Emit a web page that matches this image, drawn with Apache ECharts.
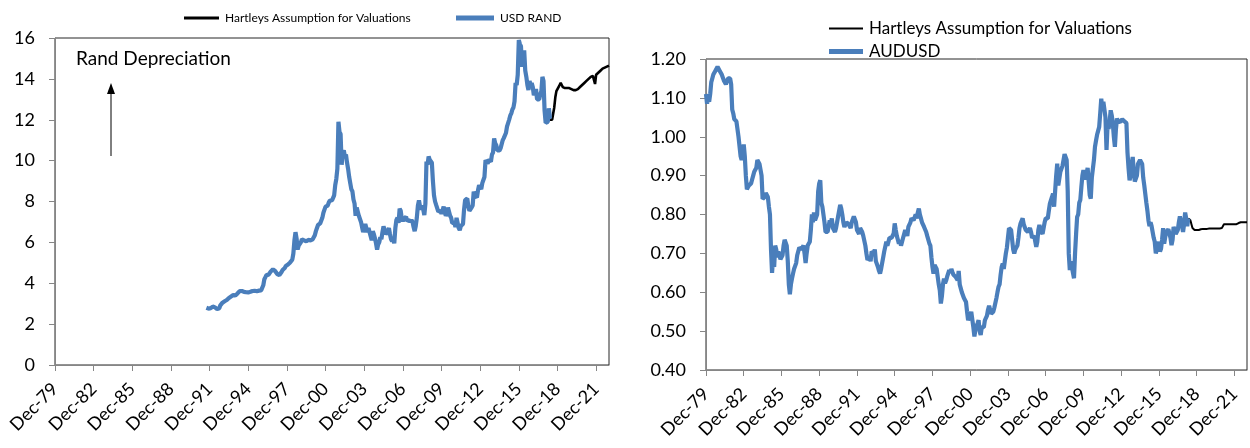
<!DOCTYPE html>
<html>
<head>
<meta charset="utf-8">
<title>USD RAND and AUDUSD</title>
<script src="https://cdn.jsdelivr.net/npm/echarts@6.0.0/dist/echarts.min.js"></script>
<style>
  html, body { margin: 0; padding: 0; background: #fff; }
  #chart { width: 1250px; height: 448px; }
</style>
</head>
<body>
<div id="chart"></div>
<script>
// Axis ticks: every third December, counted in months from Dec 1979
const tickLabels = ['Dec-79', 'Dec-82', 'Dec-85', 'Dec-88', 'Dec-91', 'Dec-94', 'Dec-97',
  'Dec-00', 'Dec-03', 'Dec-06', 'Dec-09', 'Dec-12', 'Dec-15', 'Dec-18', 'Dec-21'];
const axisEndMonth = '2022-12';

// USD/ZAR, monthly from Sep 1991
const usdRandStart = '1991-09';
const usdRand = [
  2.80, 2.78, 2.76, 2.75,
  2.78, 2.82, 2.86, 2.85, 2.82, 2.80, 2.74, 2.72, 2.78, 2.92, 3.00, 3.05,
  3.10, 3.12, 3.20, 3.18, 3.22, 3.28, 3.30, 3.35, 3.40, 3.42, 3.38, 3.40,
  3.45, 3.50, 3.55, 3.62, 3.65, 3.62, 3.60, 3.58, 3.55, 3.56, 3.58, 3.55,
  3.56, 3.58, 3.60, 3.62, 3.64, 3.63, 3.62, 3.61, 3.62, 3.64, 3.66, 3.65,
  3.65, 3.90, 4.20, 4.30, 4.40, 4.35, 4.42, 4.50, 4.58, 4.62, 4.68, 4.64,
  4.60, 4.55, 4.45, 4.42, 4.40, 4.45, 4.55, 4.65, 4.70, 4.75, 4.85, 4.88,
  4.92, 4.97, 5.02, 5.08, 5.15, 5.45, 6.10, 6.50, 6.20, 5.65, 5.85, 5.90,
  6.00, 6.15, 6.20, 6.10, 6.15, 6.05, 6.10, 6.12, 6.08, 6.10, 6.12, 6.15,
  6.20, 6.35, 6.55, 6.70, 6.85, 6.90, 6.93, 7.00, 7.20, 7.45, 7.60, 7.75,
  7.70, 7.80, 7.95, 8.05, 8.07, 8.05, 8.10, 8.30, 8.80, 9.10, 9.60, 11.90,
  11.40, 11.30, 9.80, 10.40, 10.50, 10.20, 10.30, 9.90, 9.60, 9.20, 8.90, 8.60,
  8.50, 8.10, 7.90, 7.30, 7.70, 7.50, 7.30, 7.35, 7.00, 6.75, 6.50, 6.45,
  6.90, 6.95, 6.50, 6.70, 6.50, 6.30, 6.10, 6.55, 6.40, 6.20, 5.95, 5.65,
  5.90, 6.00, 6.25, 6.15, 6.50, 6.78, 6.60, 6.40, 6.35, 6.55, 6.70, 6.40,
  6.15, 6.05, 6.20, 5.95, 6.70, 7.10, 7.20, 6.95, 7.65, 7.55, 7.15, 7.05,
  7.15, 7.20, 7.25, 7.05, 7.00, 7.10, 7.00, 7.10, 7.00, 6.75, 6.55, 6.80,
  7.20, 7.80, 8.05, 7.75, 7.60, 7.80, 7.60, 7.34, 7.90, 9.95, 9.80, 10.20,
  10.05, 10.00, 9.90, 9.00, 8.30, 8.00, 7.83, 7.90, 7.50, 7.45, 7.55, 7.40,
  7.45, 7.75, 7.50, 7.30, 7.40, 7.70, 7.65, 7.30, 7.20, 6.95, 6.90, 6.95,
  6.75, 7.20, 6.95, 6.70, 6.60, 6.80, 6.75, 6.90, 7.60, 8.07, 8.10, 8.15,
  7.75, 7.55, 7.60, 7.70, 7.80, 8.48, 8.30, 8.25, 8.20, 8.55, 8.80, 8.70,
  8.60, 8.90, 9.05, 9.20, 10.03, 9.95, 9.85, 10.05, 10.00, 9.95, 10.30, 10.40,
  11.09, 10.85, 10.75, 10.50, 10.45, 10.50, 10.60, 10.65, 11.00, 11.10, 11.10, 11.35,
  11.66, 11.60, 12.00, 12.20, 12.31, 12.50, 12.60, 12.90, 13.80, 13.70, 14.20, 15.90,
  15.70, 15.60, 14.60, 14.60, 15.40, 14.40, 14.10, 13.70, 13.45, 13.90, 13.70, 13.80,
  13.60, 13.20, 13.13, 13.50, 13.00, 12.96, 13.00, 13.25, 13.40, 14.10, 13.90, 12.45,
  11.85, 11.82, 11.90, 12.56, 12.05
];

// Valuation assumption for USD/ZAR, monthly from May 2018
const randAssumptionStart = '2018-05';
const randAssumption = [
  12.00, 12.00, 12.00, 12.05, 12.60, 13.10, 13.40, 13.50,
  13.60, 13.70, 13.80, 13.70, 13.60, 13.55, 13.55, 13.55, 13.55, 13.55, 13.55, 13.50,
  13.50, 13.45, 13.45, 13.45, 13.45, 13.45, 13.50, 13.55, 13.60, 13.65, 13.70, 13.75,
  13.80, 13.85, 13.90, 13.95, 14.00, 14.05, 14.10, 14.10, 14.15, 14.20, 13.75, 14.20,
  14.25, 14.30, 14.35, 14.40, 14.45, 14.50, 14.50, 14.55, 14.55, 14.60, 14.60, 14.65
];

// AUD/USD, monthly from Dec 1979
const audUsdStart = '1979-12';
const audUsd = [
  1.110,
  1.085, 1.100, 1.090, 1.110, 1.140, 1.150, 1.160, 1.165, 1.170, 1.175, 1.180, 1.175,
  1.170, 1.165, 1.160, 1.155, 1.145, 1.140, 1.135, 1.140, 1.150, 1.145, 1.150, 1.135,
  1.070, 1.060, 1.045, 1.040, 1.040, 1.020, 1.000, 0.975, 0.950, 0.940, 0.965, 0.980,
  0.950, 0.900, 0.865, 0.870, 0.875, 0.880, 0.880, 0.890, 0.900, 0.910, 0.915, 0.920,
  0.940, 0.945, 0.930, 0.925, 0.900, 0.840, 0.835, 0.845, 0.855, 0.860, 0.845, 0.820,
  0.800, 0.710, 0.650, 0.690, 0.665, 0.720, 0.710, 0.690, 0.705, 0.700, 0.685, 0.680,
  0.695, 0.720, 0.735, 0.740, 0.720, 0.680, 0.620, 0.595, 0.620, 0.635, 0.648, 0.660,
  0.665, 0.675, 0.695, 0.700, 0.715, 0.720, 0.710, 0.705, 0.720, 0.700, 0.675, 0.700,
  0.720, 0.715, 0.730, 0.760, 0.800, 0.780, 0.805, 0.785, 0.790, 0.800, 0.860, 0.880,
  0.888, 0.830, 0.820, 0.800, 0.780, 0.755, 0.760, 0.755, 0.770, 0.785, 0.775, 0.790,
  0.765, 0.760, 0.755, 0.765, 0.780, 0.795, 0.800, 0.825, 0.815, 0.800, 0.780, 0.768,
  0.770, 0.780, 0.785, 0.775, 0.770, 0.765, 0.780, 0.785, 0.795, 0.798, 0.780, 0.760,
  0.755, 0.750, 0.765, 0.760, 0.755, 0.745, 0.740, 0.720, 0.700, 0.683, 0.685, 0.690,
  0.680, 0.705, 0.708, 0.700, 0.710, 0.680, 0.675, 0.665, 0.655, 0.648, 0.660, 0.675,
  0.690, 0.705, 0.710, 0.730, 0.720, 0.730, 0.740, 0.745, 0.740, 0.735, 0.751, 0.777,
  0.760, 0.745, 0.735, 0.725, 0.734, 0.720, 0.730, 0.740, 0.750, 0.760, 0.755, 0.745,
  0.768, 0.770, 0.780, 0.790, 0.794, 0.785, 0.790, 0.800, 0.790, 0.805, 0.815, 0.800,
  0.790, 0.780, 0.785, 0.768, 0.770, 0.755, 0.745, 0.740, 0.726, 0.720, 0.690, 0.665,
  0.648, 0.670, 0.674, 0.660, 0.640, 0.620, 0.605, 0.571, 0.590, 0.620, 0.635, 0.623,
  0.630, 0.640, 0.645, 0.657, 0.650, 0.660, 0.652, 0.645, 0.650, 0.640, 0.635, 0.631,
  0.655, 0.620, 0.610, 0.600, 0.597, 0.585, 0.590, 0.575, 0.550, 0.528, 0.525, 0.540,
  0.550, 0.530, 0.510, 0.486, 0.505, 0.510, 0.520, 0.528, 0.500, 0.490, 0.510, 0.515,
  0.510, 0.528, 0.530, 0.540, 0.555, 0.565, 0.560, 0.545, 0.546, 0.550, 0.560, 0.565,
  0.585, 0.600, 0.614, 0.620, 0.645, 0.665, 0.674, 0.660, 0.680, 0.700, 0.715, 0.740,
  0.765, 0.770, 0.760, 0.735, 0.710, 0.700, 0.710, 0.715, 0.720, 0.740, 0.765, 0.777,
  0.780, 0.790, 0.775, 0.770, 0.760, 0.760, 0.755, 0.760, 0.765, 0.755, 0.740, 0.735,
  0.745, 0.740, 0.717, 0.730, 0.760, 0.773, 0.760, 0.765, 0.750, 0.765, 0.780, 0.790,
  0.785, 0.790, 0.810, 0.828, 0.825, 0.845, 0.854, 0.820, 0.860, 0.900, 0.931, 0.875,
  0.871, 0.910, 0.905, 0.925, 0.940, 0.955, 0.957, 0.940, 0.860, 0.700, 0.657, 0.680,
  0.680, 0.650, 0.636, 0.700, 0.750, 0.794, 0.800, 0.830, 0.837, 0.870, 0.900, 0.914,
  0.905, 0.890, 0.888, 0.920, 0.923, 0.850, 0.841, 0.895, 0.900, 0.940, 0.974, 0.990,
  1.005, 1.015, 1.025, 1.060, 1.098, 1.070, 1.090, 1.094, 1.050, 0.966, 1.030, 1.020,
  1.040, 1.068, 1.055, 1.035, 1.000, 0.974, 1.020, 1.047, 1.040, 1.040, 1.038, 1.040,
  1.045, 1.040, 1.040, 1.038, 1.035, 0.960, 0.920, 0.888, 0.900, 0.930, 0.948, 0.910,
  0.885, 0.880, 0.900, 0.930, 0.935, 0.940, 0.935, 0.930, 0.895, 0.875, 0.871, 0.830,
  0.810, 0.785, 0.770, 0.780, 0.770, 0.770, 0.740, 0.730, 0.700, 0.710, 0.712, 0.730,
  0.705, 0.712, 0.735, 0.765, 0.725, 0.742, 0.755, 0.755, 0.762, 0.765, 0.740, 0.721,
  0.735, 0.768, 0.765, 0.750, 0.745, 0.760, 0.780, 0.795, 0.800, 0.770, 0.755, 0.775,
  0.805, 0.790, 0.770, 0.790
];

// Valuation assumption for AUD/USD, monthly from Apr 2018
const audAssumptionStart = '2018-04';
const audAssumption = [
  0.790, 0.790, 0.785, 0.775, 0.765, 0.760, 0.760, 0.760, 0.760,
  0.760, 0.760, 0.760, 0.762, 0.763, 0.763, 0.763, 0.763, 0.763, 0.763, 0.764, 0.764,
  0.764, 0.764, 0.764, 0.764, 0.764, 0.764, 0.764, 0.764, 0.764, 0.764, 0.764, 0.765,
  0.770, 0.775, 0.775, 0.775, 0.775, 0.775, 0.775, 0.775, 0.775, 0.775, 0.775, 0.775,
  0.775, 0.775, 0.770, 0.778, 0.780, 0.780, 0.780, 0.780, 0.780, 0.780, 0.780, 0.780
];

// ---- helpers -------------------------------------------------------------
function monthsFromBase(ym) {
  const [y, m] = ym.split('-').map(Number);
  return (y - 1979) * 12 + (m - 12);
}
function toPoints(start, values) {
  const s = monthsFromBase(start);
  return values.map((v, i) => [s + i, v]);
}

const FONT = 'Lato';
const AXIS_GREY = '#868686';
const BLUE = '#4a7ebb';
const ASSUMPTION = 'Hartleys Assumption for Valuations';
const tickMonths = tickLabels.map((_, i) => i * 36);
const xMax = monthsFromBase(axisEndMonth);

function xAxisFor(gridIndex) {
  return {
    type: 'value', gridIndex, min: 0, max: xMax, interval: 36,
    axisLine: { show: true, lineStyle: { color: AXIS_GREY, width: 1 } },
    axisTick: { show: true, length: 6, customValues: tickMonths, lineStyle: { color: AXIS_GREY } },
    axisLabel: {
      customValues: tickMonths, rotate: 45, margin: 21,
      formatter: v => tickLabels[Math.round(v / 36)] || '',
      fontFamily: FONT, fontSize: 18, color: '#000'
    },
    splitLine: { show: false }
  };
}

// one legend entry per component so each key can keep its own line thickness
function legendKey(name, left, top, width, thickness, fontSize) {
  return {
    data: [{ name, icon: 'rect' }],
    left, top, orient: 'horizontal', padding: 0,
    itemWidth: width, itemHeight: thickness,
    textStyle: { fontFamily: FONT, fontSize, color: '#000', padding: [0, 0, 0, 1] },
    selectedMode: false
  };
}

const chart = echarts.init(document.getElementById('chart'), null, { renderer: 'canvas' });

chart.setOption({
  animation: false,
  backgroundColor: '#fff',
  grid: [
    { left: 55, top: 38, width: 554, height: 327, show: true, borderColor: '#262626', borderWidth: 1 },
    { left: 706, top: 59, width: 541, height: 311, show: true, borderColor: '#262626', borderWidth: 1 }
  ],
  legend: [
    legendKey(ASSUMPTION, 184, 12, 35, 3, 12),
    legendKey('USD RAND', 456, 12, 38, 5, 12),
    legendKey(ASSUMPTION, 829, 20, 34, 2, 17),
    legendKey('AUDUSD', 829, 43, 34, 5, 17)
  ],
  xAxis: [xAxisFor(0), xAxisFor(1)],
  yAxis: [
    {
      type: 'value', gridIndex: 0, min: 0, max: 16, interval: 2,
      axisLine: { show: true, lineStyle: { color: AXIS_GREY } },
      axisTick: { show: true, length: 6, lineStyle: { color: AXIS_GREY } },
      axisLabel: { margin: 20, fontFamily: FONT, fontSize: 18, color: '#000' },
      splitLine: { show: false }
    },
    {
      type: 'value', gridIndex: 1, min: 0.4, max: 1.2, interval: 0.1,
      axisLine: { show: true, lineStyle: { color: AXIS_GREY } },
      axisTick: { show: true, length: 6, lineStyle: { color: AXIS_GREY } },
      axisLabel: { margin: 20, fontFamily: FONT, fontSize: 18, color: '#000', formatter: v => v.toFixed(2) },
      splitLine: { show: false }
    }
  ],
  series: [
    {
      name: ASSUMPTION, type: 'line', xAxisIndex: 0, yAxisIndex: 0,
      data: toPoints(randAssumptionStart, randAssumption),
      showSymbol: false, symbol: 'none', z: 3,
      lineStyle: { color: '#000', width: 2.6 }, itemStyle: { color: '#000' }
    },
    {
      name: 'USD RAND', type: 'line', xAxisIndex: 0, yAxisIndex: 0,
      data: toPoints(usdRandStart, usdRand),
      showSymbol: false, symbol: 'none', z: 4,
      lineStyle: { color: BLUE, width: 4.2 }, itemStyle: { color: BLUE }
    },
    {
      name: ASSUMPTION, type: 'line', xAxisIndex: 1, yAxisIndex: 1,
      data: toPoints(audAssumptionStart, audAssumption),
      showSymbol: false, symbol: 'none', z: 3,
      lineStyle: { color: '#000', width: 2 }, itemStyle: { color: '#000' }
    },
    {
      name: 'AUDUSD', type: 'line', xAxisIndex: 1, yAxisIndex: 1,
      data: toPoints(audUsdStart, audUsd),
      showSymbol: false, symbol: 'none', z: 4,
      lineStyle: { color: BLUE, width: 4.2 }, itemStyle: { color: BLUE }
    }
  ],
  graphic: [
    {
      type: 'text', left: 76, top: 49,
      style: { text: 'Rand Depreciation', fontFamily: FONT, fontSize: 19, fill: '#000' }
    },
    {
      type: 'line', shape: { x1: 111, y1: 156, x2: 111, y2: 92 },
      style: { stroke: '#000', lineWidth: 1 }
    },
    {
      type: 'polygon', shape: { points: [[111, 83], [107, 94], [115, 94]] },
      style: { fill: '#000' }
    }
  ]
});
</script>
</body>
</html>
